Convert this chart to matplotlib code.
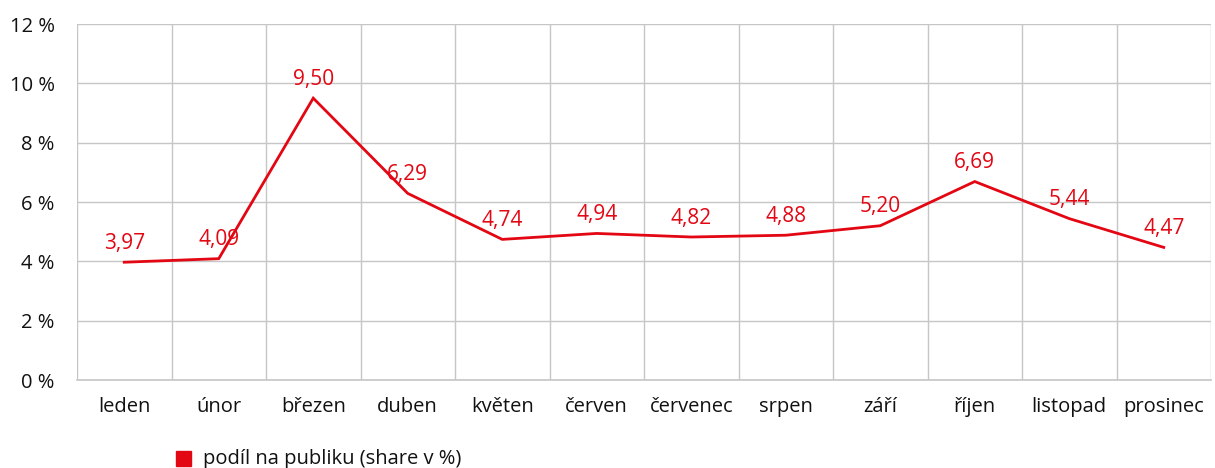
import matplotlib.pyplot as plt
import numpy as np
from matplotlib.patches import Rectangle

plt.rcParams['font.family'] = ['Open Sans', 'DejaVu Sans']

# --- data ---
months = ['leden', 'únor', 'březen', 'duben', 'květen', 'červen',
          'červenec', 'srpen', 'září', 'říjen', 'listopad', 'prosinec']
share = [3.97, 4.09, 9.50, 6.29, 4.74, 4.94, 4.82, 4.88, 5.20, 6.69, 5.44, 4.47]
y_ticks = [0, 2, 4, 6, 8, 10, 12]
series_name = 'podíl na publiku (share v %)'

red = '#e30613'
grid_c = '#c6c6c6'
text_c = '#111111'

fig = plt.figure(figsize=(12.15, 4.68), dpi=100, facecolor='white')
ax = fig.add_axes([77 / 1215, 88 / 468, 1134 / 1215, 356 / 468])

x = np.arange(len(months))
ax.plot(x, share, color=red, linewidth=2, solid_joinstyle='miter', zorder=3)

# popisky hodnot nad body
for xi, v in zip(x, share):
    ax.annotate(f'{v:.2f}'.replace('.', ','), (xi, v), xytext=(0, 6),
                textcoords='offset points', ha='center', va='bottom',
                color=red, fontsize=15, zorder=4)

ax.set_xlim(-0.5, len(months) - 0.5)
ax.set_ylim(0, 12)
ax.set_yticks(y_ticks)
ax.set_yticklabels([f'{t} %' for t in y_ticks])
ax.set_xticks(x)
ax.set_xticklabels(months)
ax.set_xticks(np.arange(-0.5, len(months)), minor=True)

ax.grid(axis='y', which='major', color=grid_c, linewidth=1)
ax.grid(axis='x', which='minor', color=grid_c, linewidth=1)
ax.set_axisbelow(True)

for s in ['top', 'right', 'left']:
    ax.spines[s].set_visible(False)
ax.spines['bottom'].set_color(grid_c)
ax.spines['bottom'].set_linewidth(1.2)

ax.tick_params(axis='both', which='both', length=0, labelsize=14.5, colors=text_c)
ax.tick_params(axis='x', pad=12)
ax.tick_params(axis='y', pad=16)

# legenda
fig.patches.append(Rectangle((176 / 1215, 2 / 468), 15 / 1215, 15 / 468,
                             transform=fig.transFigure, color=red))
fig.text(203 / 1215, 9 / 468, series_name, ha='left', va='center',
         fontsize=14.5, color=text_c)

fig.savefig('out.png', dpi=100, facecolor='white')
